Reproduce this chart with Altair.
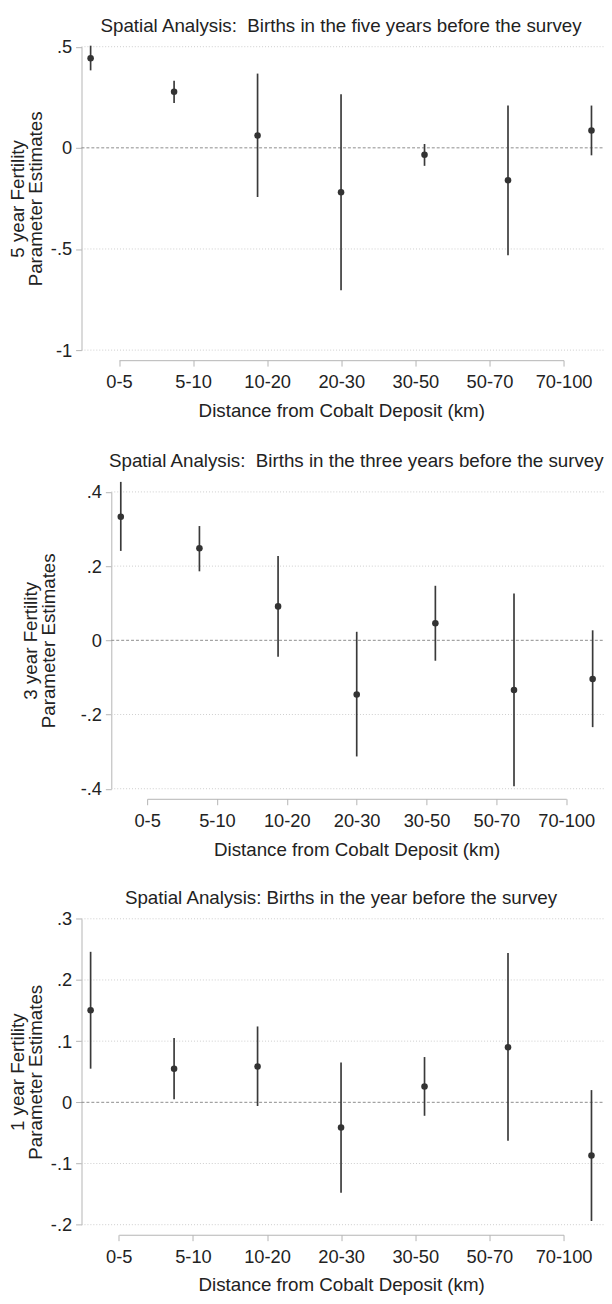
import altair as alt
import pandas as pd

# ---------------- data ----------------
categories = ["0-5", "5-10", "10-20", "20-30", "30-50", "50-70", "70-100"]
positions = [1, 2, 3, 4, 5, 6, 7]

est_5yr = [0.443, 0.277, 0.061, -0.220, -0.034, -0.160, 0.086]
lo_5yr = [0.383, 0.222, -0.243, -0.704, -0.089, -0.531, -0.037]
hi_5yr = [0.505, 0.332, 0.367, 0.265, 0.019, 0.209, 0.209]

est_3yr = [0.333, 0.248, 0.0915, -0.146, 0.046, -0.134, -0.104]
lo_3yr = [0.241, 0.186, -0.044, -0.313, -0.055, -0.393, -0.234]
hi_3yr = [0.427, 0.308, 0.227, 0.023, 0.147, 0.126, 0.027]

est_1yr = [0.1505, 0.055, 0.0586, -0.041, 0.026, 0.090, -0.087]
lo_1yr = [0.055, 0.005, -0.006, -0.148, -0.022, -0.063, -0.194]
hi_1yr = [0.246, 0.105, 0.124, 0.065, 0.074, 0.244, 0.020]

yticks_5yr = [0.5, 0, -0.5, -1]
ylabels_5yr = [".5", "0", "-.5", "-1"]
yticks_3yr = [0.4, 0.2, 0, -0.2, -0.4]
ylabels_3yr = [".4", ".2", "0", "-.2", "-.4"]
yticks_1yr = [0.3, 0.2, 0.1, 0, -0.1, -0.2]
ylabels_1yr = [".3", ".2", ".1", "0", "-.1", "-.2"]

titles = [
    "Spatial Analysis:\u00a0 Births in the five years before the survey",
    "Spatial Analysis:\u00a0 Births in the three years before the survey",
    "Spatial Analysis: Births in the year before the survey",
]
ytitles = [
    ["5 year Fertility", "Parameter Estimates"],
    ["3 year Fertility", "Parameter Estimates"],
    ["1 year Fertility", "Parameter Estimates"],
]
xtitle = "Distance from Cobalt Deposit (km)"

# ---------------- style / layout ----------------
FONT = "Liberation Sans"
TEXT = "#222222"
AXIS = "#b4b4b4"
GRID = "#cdcdcd"
MARK = "#333333"
WID = 604
HGT = 1298


def panel(est, lo, hi, yticks, ylabels, ydomain, yrange, xdomain, xrange,
          xaxis_at, cat_range, xaxis_offset, yaxis_offset, ytitle,
          ytitle_x, title, title_x, title_y):
    df = pd.DataFrame({"pos": positions, "cat": categories,
                       "est": est, "lo": lo, "hi": hi})
    grid_vals = [v for v in yticks if v != 0]
    gdf = pd.DataFrame({"v": grid_vals, "x0": [xaxis_at] * len(grid_vals),
                        "x1": [xdomain[1]] * len(grid_vals)})
    zdf = pd.DataFrame({"v": [0], "x0": [xaxis_at], "x1": [xdomain[1]]})
    cdf = pd.DataFrame({"cat": categories})
    label_expr = " : ".join(
        f"datum.value == {v} ? '{l}'" for v, l in zip(yticks, ylabels)
    ) + " : ''"
    yscale = alt.Scale(domain=ydomain, range=yrange, nice=False, zero=False)
    xscale = alt.Scale(domain=xdomain, range=xrange, nice=False, zero=False)
    yaxis = alt.Axis(
        orient="left", offset=yaxis_offset,
        values=yticks, labelExpr=label_expr, title=ytitle,
        titleX=ytitle_x, titleY=(yrange[0] + yrange[1]) / 2, titleAngle=270,
        titleAlign="center", titleBaseline="bottom", titleLineHeight=18,
        titleFontSize=19, titleFontWeight="normal",
        labelFontSize=18.5, labelPadding=4, tickSize=6,
        tickColor=AXIS, domainColor=AXIS, grid=False,
    )
    xaxis = alt.Axis(
        orient="bottom", offset=xaxis_offset, title=xtitle, titleFontSize=19,
        titleFontWeight="normal", titlePadding=10.5, labelFontSize=18.5,
        labelPadding=7, tickSize=6, labelAngle=0, labelFlush=False,
        labelOverlap=False, domainColor=AXIS, tickColor=AXIS, grid=False,
    )
    taxis = alt.Axis(
        orient="top", offset=0, domain=False, ticks=False, labels=False,
        grid=False, title=title, titleX=title_x, titleY=title_y,
        titleAlign="center", titleBaseline="middle", titleAngle=0,
        titleFontSize=19, titleFontWeight="normal",
    )

    grid = alt.Chart(gdf).mark_rule(
        color=GRID, strokeDash=[1, 2], strokeWidth=1
    ).encode(
        y=alt.Y("v:Q", scale=yscale, axis=yaxis),
        x=alt.X("x0:Q", scale=xscale, axis=None), x2="x1:Q",
    )
    zero = alt.Chart(zdf).mark_rule(
        color="#8c8c8c", strokeDash=[3, 2], strokeWidth=1
    ).encode(
        y=alt.Y("v:Q", scale=yscale, axis=yaxis),
        x=alt.X("x0:Q", scale=xscale, axis=None), x2="x1:Q",
    )
    ci = alt.Chart(df).mark_rule(color="#3a3a3a", strokeWidth=1.7).encode(
        x=alt.X("pos:Q", scale=xscale, axis=None),
        y=alt.Y("lo:Q", scale=yscale, axis=yaxis),
        y2="hi:Q",
    )
    pts = alt.Chart(df).mark_circle(size=44, color=MARK, opacity=1).encode(
        x=alt.X("pos:Q", scale=xscale, axis=None),
        y=alt.Y("est:Q", scale=yscale, axis=yaxis),
    )
    xax = alt.Chart(cdf).mark_point(opacity=0).encode(
        x=alt.X("cat:N",
                scale=alt.Scale(type="point", domain=categories,
                                range=cat_range, padding=0),
                axis=xaxis)
    )
    tax = alt.Chart(cdf).mark_point(opacity=0).encode(
        x=alt.X("cat:N",
                scale=alt.Scale(type="point", domain=categories,
                                range=[0, WID], padding=0),
                axis=taxis)
    )
    return [alt.layer(grid, zero, ci, pts), xax, tax]


p1 = panel(est_5yr, lo_5yr, hi_5yr, yticks_5yr, ylabels_5yr,
           [-1, 0.5], [338, 30.5], [0.891, 7.150], [74.5, WID], 0.891,
           [112.5, 563], 348.2 - HGT, -74.5, ytitles[0], -54.8,
           titles[0], 337, 9.6)
p2 = panel(est_3yr, lo_3yr, hi_3yr, yticks_3yr, ylabels_3yr,
           [-0.4, 0.4], [782.5, 481.7], [0.8796, 7.1443], [104.7, WID],
           0.8796, [141, 565.7], 792.7 - HGT, -104.7, ytitles[1], -72,
           titles[1], 352.5, 450.1)
p3 = panel(est_1yr, lo_1yr, hi_1yr, yticks_1yr, ylabels_1yr,
           [-0.2, 0.3], [1224.3, 914.3], [0.891, 7.150], [74.5, WID], 0.891,
           [112.3, 563], 1234.5 - HGT, -74.5, ytitles[2], -54.8,
           titles[2], 337, 893.1)

chart = alt.layer(*p1, *p2, *p3).resolve_scale(
    x="independent", y="independent"
).properties(
    width=WID, height=HGT, padding=0,
    autosize=alt.AutoSizeParams(type="none"),
).configure_view(stroke=None).configure_axis(
    labelFont=FONT, titleFont=FONT, labelColor=TEXT, titleColor=TEXT
)

chart.save("out.html", embed_options={"renderer": "svg", "actions": False})
